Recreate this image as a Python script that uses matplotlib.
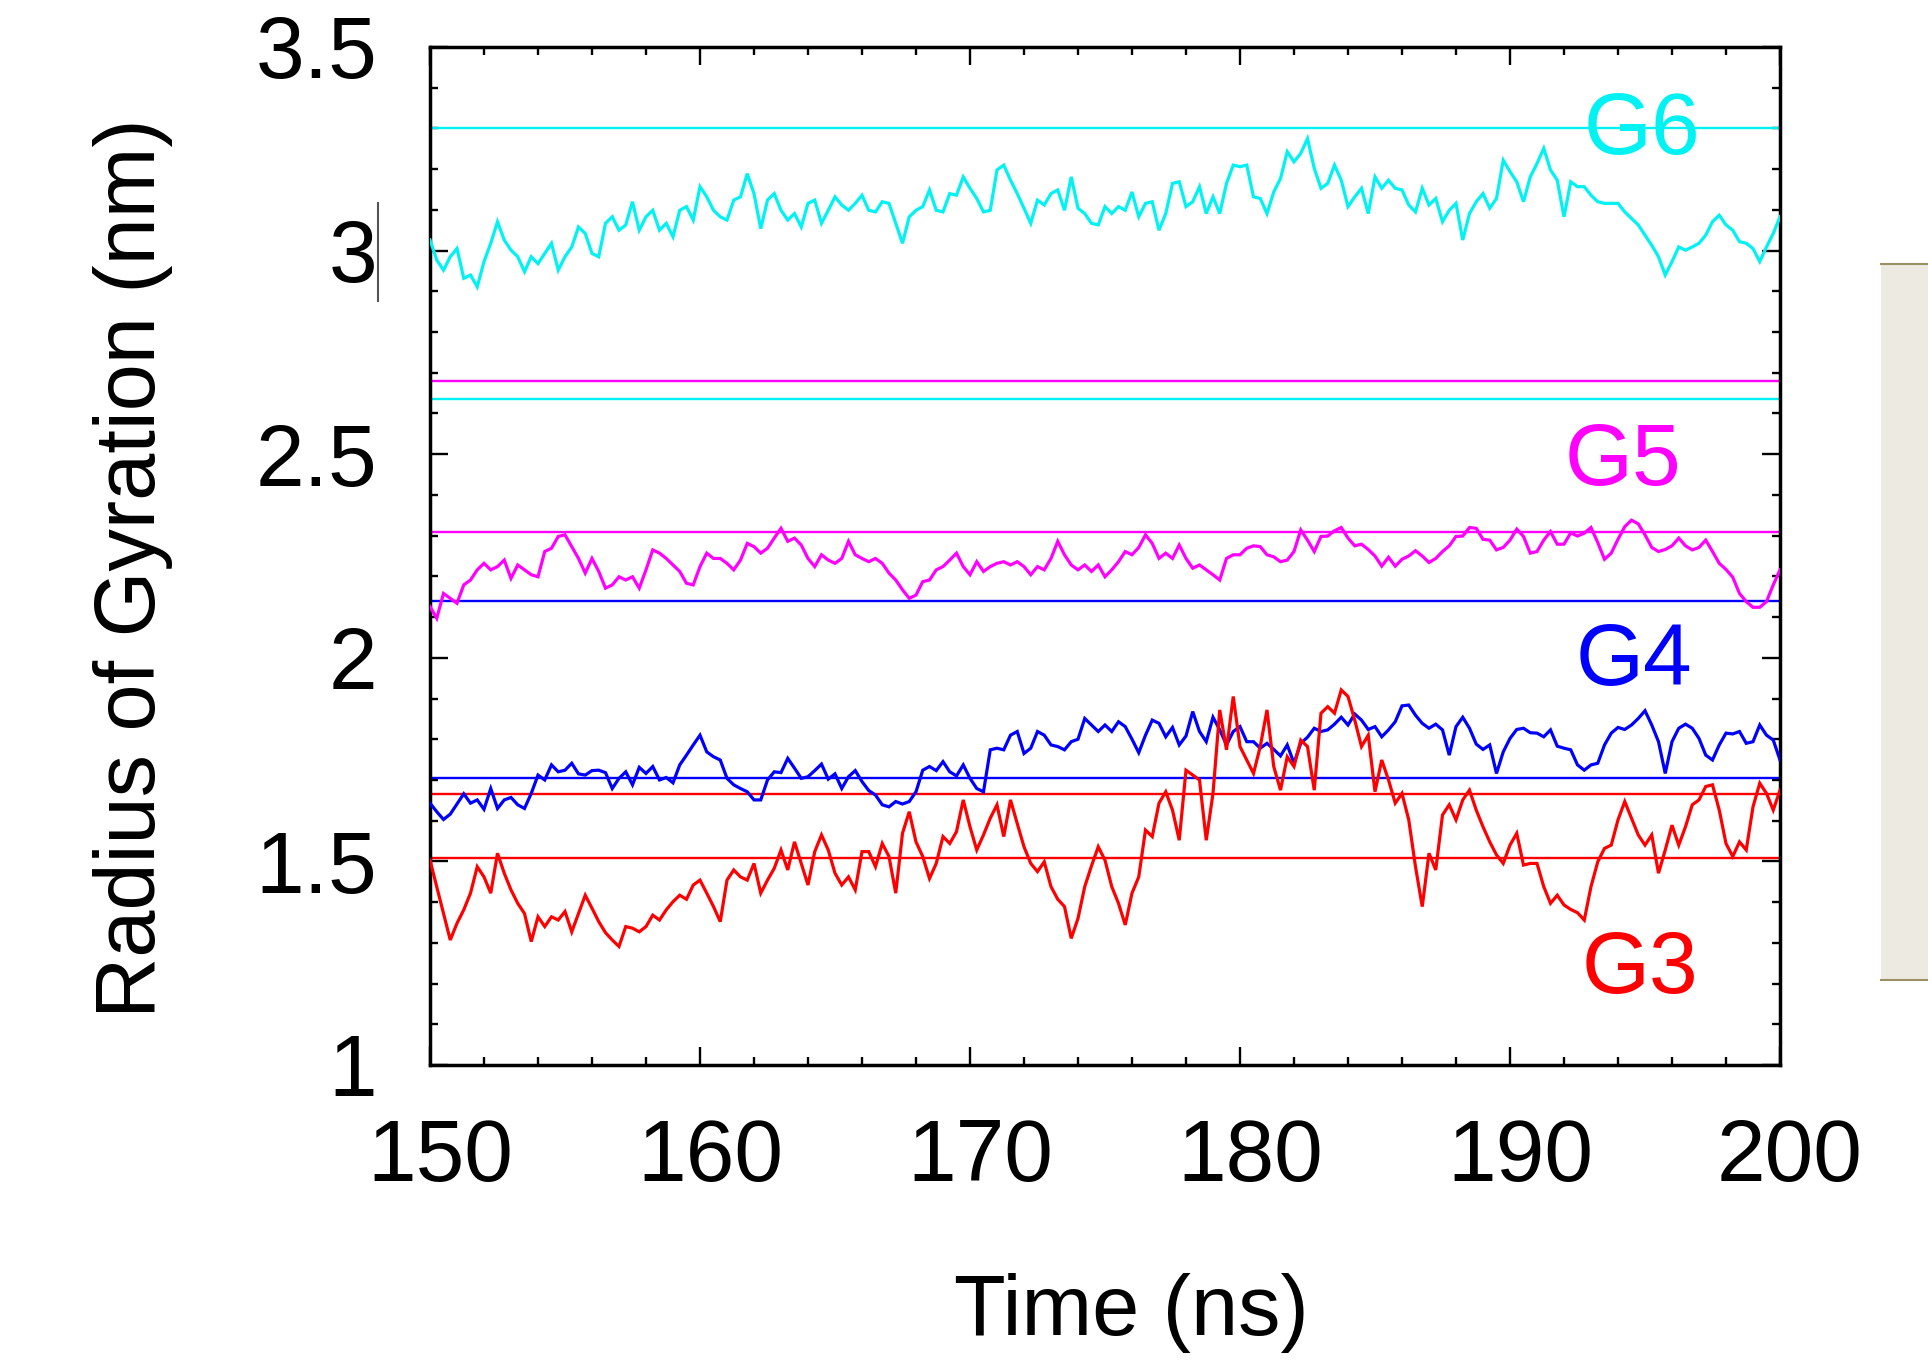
import numpy as np
import matplotlib
matplotlib.use("Agg")
import matplotlib.pyplot as plt
from matplotlib.ticker import MultipleLocator, FuncFormatter
from matplotlib.patches import Rectangle
from matplotlib.lines import Line2D
from matplotlib.transforms import ScaledTranslation

plt.rcParams['font.family'] = ['Liberation Sans', 'DejaVu Sans']

# ---- data ----
time_ns = np.arange(150.0, 200.001, 0.25)

g6 = [3.026, 2.977, 2.952, 2.985, 3.005, 2.932, 2.940, 2.911, 2.973, 3.018,
      3.071, 3.026, 3.001, 2.985, 2.948, 2.985, 2.968, 2.993, 3.018, 2.952,
      2.985, 3.009, 3.058, 3.042, 2.993, 2.985, 3.067, 3.083, 3.050, 3.063,
      3.120, 3.050, 3.083, 3.099, 3.050, 3.067, 3.034, 3.099, 3.108, 3.075,
      3.157, 3.132, 3.099, 3.083, 3.075, 3.124, 3.132, 3.189, 3.140, 3.054,
      3.124, 3.140, 3.099, 3.075, 3.091, 3.058, 3.116, 3.124, 3.067, 3.099,
      3.132, 3.112, 3.099, 3.116, 3.136, 3.099, 3.095, 3.120, 3.116, 3.067,
      3.018, 3.083, 3.099, 3.108, 3.149, 3.099, 3.095, 3.140, 3.136, 3.181,
      3.153, 3.128, 3.095, 3.099, 3.198, 3.210, 3.173, 3.140, 3.104, 3.067,
      3.124, 3.112, 3.140, 3.149, 3.099, 3.181, 3.104, 3.091, 3.067, 3.063,
      3.108, 3.091, 3.108, 3.099, 3.144, 3.083, 3.116, 3.120, 3.050, 3.091,
      3.165, 3.169, 3.108, 3.120, 3.157, 3.091, 3.132, 3.091, 3.165, 3.210,
      3.206, 3.210, 3.132, 3.128, 3.091, 3.144, 3.177, 3.243, 3.218, 3.239,
      3.275, 3.202, 3.153, 3.165, 3.210, 3.173, 3.108, 3.132, 3.153, 3.091,
      3.181, 3.153, 3.173, 3.153, 3.149, 3.112, 3.095, 3.153, 3.112, 3.128,
      3.071, 3.099, 3.116, 3.026, 3.091, 3.120, 3.140, 3.104, 3.128, 3.222,
      3.194, 3.169, 3.120, 3.181, 3.214, 3.251, 3.198, 3.173, 3.083, 3.169,
      3.157, 3.157, 3.136, 3.120, 3.116, 3.116, 3.116, 3.095, 3.079, 3.063,
      3.038, 3.013, 2.985, 2.940, 2.973, 3.009, 3.001, 3.009, 3.018, 3.038,
      3.071, 3.087, 3.063, 3.050, 3.022, 3.018, 3.005, 2.973, 3.009, 3.042,
      3.083]

g5 = [2.126, 2.097, 2.158, 2.146, 2.134, 2.179, 2.191, 2.216, 2.232, 2.216,
      2.224, 2.240, 2.195, 2.228, 2.216, 2.204, 2.199, 2.261, 2.269, 2.298,
      2.302, 2.273, 2.244, 2.208, 2.244, 2.212, 2.171, 2.179, 2.199, 2.191,
      2.199, 2.171, 2.216, 2.265, 2.257, 2.244, 2.228, 2.212, 2.183, 2.179,
      2.224, 2.257, 2.244, 2.244, 2.232, 2.216, 2.240, 2.281, 2.273, 2.257,
      2.269, 2.294, 2.318, 2.286, 2.294, 2.277, 2.244, 2.224, 2.253, 2.240,
      2.232, 2.244, 2.286, 2.253, 2.244, 2.236, 2.244, 2.232, 2.208, 2.191,
      2.167, 2.146, 2.154, 2.187, 2.191, 2.216, 2.224, 2.240, 2.257, 2.224,
      2.204, 2.236, 2.212, 2.224, 2.232, 2.236, 2.228, 2.236, 2.224, 2.204,
      2.224, 2.216, 2.244, 2.286, 2.253, 2.228, 2.216, 2.228, 2.212, 2.228,
      2.199, 2.216, 2.236, 2.261, 2.253, 2.271, 2.302, 2.281, 2.244, 2.257,
      2.244, 2.277, 2.244, 2.220, 2.228, 2.216, 2.204, 2.191, 2.244, 2.253,
      2.253, 2.269, 2.275, 2.273, 2.253, 2.248, 2.236, 2.240, 2.261, 2.314,
      2.289, 2.261, 2.298, 2.299, 2.312, 2.320, 2.294, 2.275, 2.279, 2.266,
      2.250, 2.225, 2.247, 2.225, 2.242, 2.250, 2.263, 2.250, 2.234, 2.244,
      2.261, 2.275, 2.298, 2.299, 2.320, 2.318, 2.291, 2.289, 2.265, 2.271,
      2.289, 2.316, 2.298, 2.257, 2.261, 2.289, 2.310, 2.279, 2.279, 2.307,
      2.299, 2.306, 2.320, 2.283, 2.242, 2.257, 2.291, 2.322, 2.338, 2.329,
      2.302, 2.271, 2.261, 2.266, 2.275, 2.294, 2.275, 2.265, 2.271, 2.289,
      2.261, 2.232, 2.217, 2.198, 2.158, 2.138, 2.124, 2.124, 2.138, 2.179,
      2.216]

g4 = [1.643, 1.622, 1.603, 1.616, 1.641, 1.666, 1.643, 1.651, 1.628, 1.679,
      1.630, 1.651, 1.657, 1.639, 1.630, 1.667, 1.712, 1.700, 1.737, 1.720,
      1.724, 1.741, 1.715, 1.712, 1.723, 1.724, 1.718, 1.679, 1.704, 1.720,
      1.688, 1.731, 1.716, 1.733, 1.700, 1.706, 1.693, 1.737, 1.761, 1.786,
      1.810, 1.769, 1.757, 1.749, 1.704, 1.688, 1.679, 1.671, 1.651, 1.651,
      1.700, 1.720, 1.718, 1.753, 1.729, 1.704, 1.708, 1.723, 1.739, 1.702,
      1.715, 1.679, 1.708, 1.723, 1.696, 1.674, 1.663, 1.639, 1.634, 1.647,
      1.641, 1.647, 1.671, 1.724, 1.733, 1.723, 1.745, 1.720, 1.710, 1.737,
      1.704, 1.679, 1.671, 1.774, 1.778, 1.774, 1.810, 1.819, 1.765, 1.778,
      1.819, 1.810, 1.786, 1.782, 1.774, 1.794, 1.800, 1.851, 1.835, 1.819,
      1.835, 1.819, 1.843, 1.831, 1.800, 1.767, 1.810, 1.847, 1.839, 1.806,
      1.829, 1.786, 1.808, 1.868, 1.819, 1.794, 1.854, 1.823, 1.786, 1.819,
      1.831, 1.794, 1.794, 1.778, 1.790, 1.775, 1.759, 1.786, 1.741, 1.790,
      1.805, 1.827, 1.819, 1.823, 1.837, 1.854, 1.835, 1.862, 1.847, 1.824,
      1.831, 1.806, 1.823, 1.843, 1.882, 1.884, 1.859, 1.839, 1.827, 1.837,
      1.823, 1.761, 1.831, 1.854, 1.827, 1.788, 1.775, 1.786, 1.716, 1.769,
      1.802, 1.824, 1.827, 1.816, 1.815, 1.806, 1.823, 1.783, 1.778, 1.774,
      1.737, 1.724, 1.737, 1.741, 1.786, 1.815, 1.829, 1.824, 1.835, 1.851,
      1.870, 1.835, 1.794, 1.716, 1.794, 1.827, 1.837, 1.827, 1.802, 1.761,
      1.749, 1.786, 1.815, 1.813, 1.819, 1.790, 1.794, 1.835, 1.810, 1.798,
      1.749]

g3 = [1.503, 1.438, 1.372, 1.307, 1.348, 1.381, 1.422, 1.487, 1.462, 1.422,
      1.520, 1.471, 1.430, 1.397, 1.372, 1.303, 1.364, 1.340, 1.364, 1.356,
      1.377, 1.327, 1.372, 1.417, 1.385, 1.352, 1.325, 1.307, 1.291, 1.340,
      1.336, 1.327, 1.340, 1.368, 1.356, 1.381, 1.401, 1.417, 1.407, 1.442,
      1.454, 1.422, 1.389, 1.352, 1.454, 1.479, 1.462, 1.454, 1.495, 1.422,
      1.454, 1.483, 1.528, 1.479, 1.548, 1.495, 1.442, 1.524, 1.565, 1.528,
      1.471, 1.442, 1.462, 1.430, 1.524, 1.524, 1.487, 1.544, 1.512, 1.422,
      1.569, 1.622, 1.548, 1.512, 1.458, 1.495, 1.561, 1.544, 1.573, 1.651,
      1.585, 1.528, 1.565, 1.606, 1.639, 1.561, 1.651, 1.593, 1.536, 1.495,
      1.475, 1.499, 1.438, 1.407, 1.389, 1.311, 1.360, 1.438, 1.489, 1.536,
      1.503, 1.438, 1.397, 1.344, 1.422, 1.462, 1.577, 1.561, 1.643, 1.671,
      1.626, 1.552, 1.724, 1.712, 1.700, 1.552, 1.667, 1.872, 1.774, 1.905,
      1.782, 1.749, 1.716, 1.782, 1.872, 1.733, 1.675, 1.757, 1.733, 1.798,
      1.782, 1.675, 1.864, 1.880, 1.864, 1.921, 1.905, 1.847, 1.782, 1.810,
      1.671, 1.749, 1.700, 1.643, 1.667, 1.602, 1.487, 1.389, 1.520, 1.479,
      1.614, 1.639, 1.602, 1.651, 1.675, 1.626, 1.585, 1.548, 1.516, 1.495,
      1.540, 1.569, 1.491, 1.495, 1.495, 1.438, 1.397, 1.417, 1.393, 1.382,
      1.374, 1.356, 1.438, 1.499, 1.532, 1.540, 1.602, 1.647, 1.606, 1.565,
      1.540, 1.565, 1.471, 1.528, 1.589, 1.540, 1.585, 1.639, 1.651, 1.684,
      1.688, 1.626, 1.544, 1.512, 1.548, 1.528, 1.634, 1.692, 1.667, 1.626,
      1.675]

series_names = ['G6', 'G5', 'G4', 'G3']
series_values = [g6, g5, g4, g3]
series_colors = ['#00F2F2', '#FF00FF', '#0000FF', '#FF0000']
# horizontal reference lines per group
ref_lines = {'G6': [3.30, 2.635], 'G5': [2.68, 2.308],
             'G4': [2.14, 1.706], 'G3': [1.665, 1.508]}
# label positions (time, value baseline)
label_pos = {'G6': (194.9, 3.237), 'G5': (194.2, 2.424),
             'G4': (194.6, 1.934), 'G3': (194.8, 1.178)}

x_ticks = [150, 160, 170, 180, 190, 200]
y_ticks = [1.0, 1.5, 2.0, 2.5, 3.0, 3.5]

# ---- figure ----
W, H = 1928, 1364
fig = plt.figure(figsize=(W / 100, H / 100), dpi=100)
ax = fig.add_axes([430 / W, 1 - 1065 / H, 1350 / W, 1018 / H])

for name, vals, col in zip(series_names, series_values, series_colors):
    for yv in ref_lines[name]:
        ax.axhline(yv, color=col, lw=1.7, zorder=2)
    ax.plot(time_ns, vals, color=col, lw=2.3, zorder=3, solid_joinstyle='miter')
    tx, ty = label_pos[name]
    ax.text(tx, ty, name, color=col, fontsize=63, ha='center', va='baseline',
            zorder=4)

ax.set_xlim(150, 200)
ax.set_ylim(1.0, 3.5)
ax.set_xticks(x_ticks)
ax.set_yticks(y_ticks)
ax.xaxis.set_minor_locator(MultipleLocator(2))
ax.yaxis.set_minor_locator(MultipleLocator(0.1))
ax.yaxis.set_major_formatter(FuncFormatter(lambda v, p: f"{v:g}"))
ax.xaxis.set_major_formatter(FuncFormatter(lambda v, p: f"{v:g}"))

ax.tick_params(which='both', direction='in', top=True, right=True,
               width=1.7, color='black')
ax.tick_params(which='major', length=13, labelsize=63)
ax.tick_params(which='minor', length=6)
ax.tick_params(axis='y', which='major', pad=38)
ax.tick_params(axis='x', which='major', pad=38)
for s in ax.spines.values():
    s.set_linewidth(2.5)
    s.set_color('black')

# reference tick labels sit slightly right of their ticks
shift = ScaledTranslation(10 / 100, 0, fig.dpi_scale_trans)
for lab in ax.get_xticklabels():
    lab.set_transform(lab.get_transform() + shift)

fig.text(133 / W, 1 - 568 / H, 'Radius of Gyration (nm)', rotation=90,
         ha='center', va='center', fontsize=61)
fig.text(1131 / W, 1 - 1313 / H, 'Time (ns)', ha='center', va='center',
         fontsize=61)

# decorative panel on the right edge and small cursor mark
fig.patches.append(Rectangle((1881 / W, 1 - 980 / H), 60 / W, 716 / H,
                             transform=fig.transFigure, facecolor='#ECEAE1',
                             edgecolor='none', zorder=0))
fig.lines.append(Line2D([1881 / W, 1.0], [1 - 264 / H, 1 - 264 / H],
                        transform=fig.transFigure, color='#9A9064', lw=1.5))
fig.lines.append(Line2D([1881 / W, 1.0], [1 - 980 / H, 1 - 980 / H],
                        transform=fig.transFigure, color='#9A9064', lw=1.5))
fig.lines.append(Line2D([378 / W, 378 / W], [1 - 203 / H, 1 - 301 / H],
                        transform=fig.transFigure, color='#555555', lw=1.5))

fig.savefig('out.png', dpi=100)
